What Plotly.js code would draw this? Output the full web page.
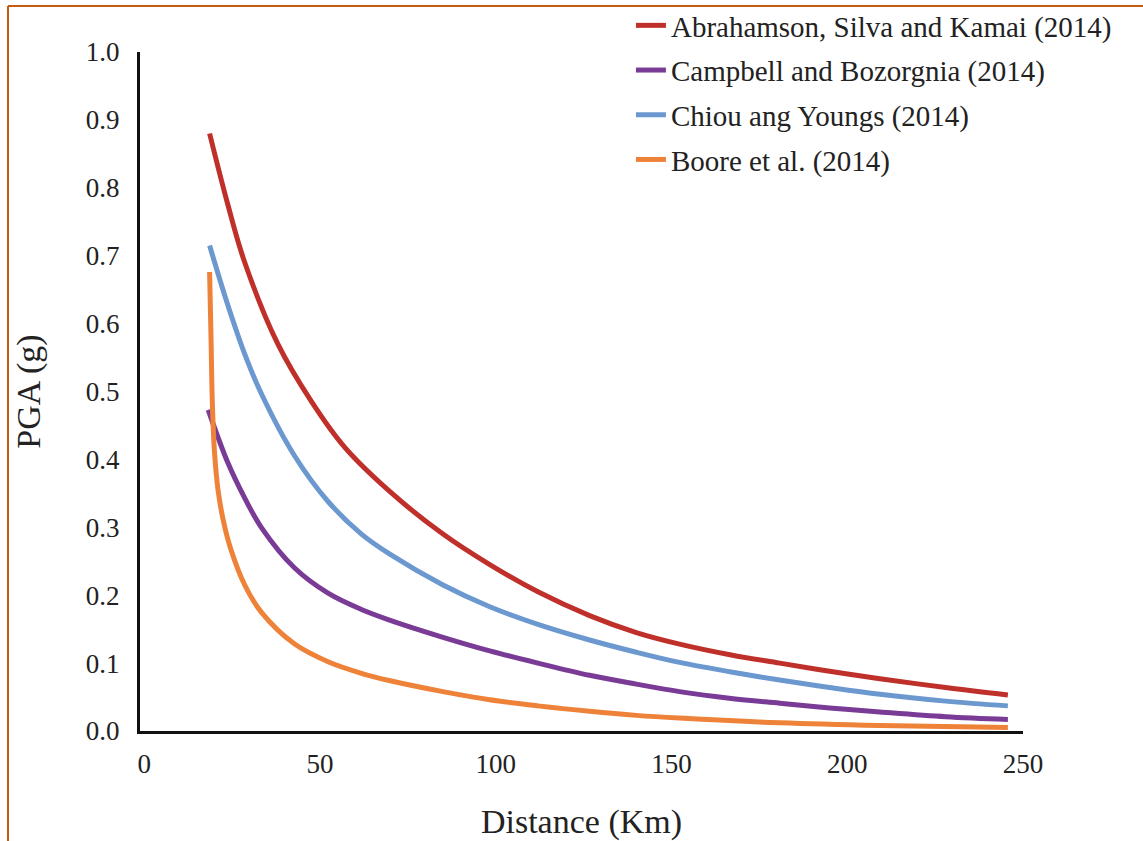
<!DOCTYPE html>
<html>
<head>
<meta charset="utf-8">
<script src="https://cdn.plot.ly/plotly-3.0.1.min.js"></script>
<style>html,body{margin:0;padding:0;background:#fff;}#chart{width:1143px;height:841px;}</style>
</head>
<body>
<div id="chart"></div>
<script>
// Series names
const seriesNames = [
  "Abrahamson, Silva and Kamai (2014)",
  "Campbell and Bozorgnia (2014)",
  "Chiou ang Youngs (2014)",
  "Boore et al. (2014)"
];

// Distance (Km) and PGA (g)
const askX = [18.6, 23.8, 28.6, 38.0, 47.6, 57.0, 70.0, 85.0, 98.3, 112.0, 126.7, 140.0, 152.3, 167.0, 180.8, 195.0, 209.3, 228.0, 245.7];
const askY = [0.880, 0.775, 0.690, 0.570, 0.485, 0.418, 0.352, 0.290, 0.245, 0.205, 0.170, 0.145, 0.128, 0.112, 0.100, 0.088, 0.077, 0.064, 0.053];

const cbX = [18.2, 23.8, 28.6, 33.3, 42.8, 52.3, 61.8, 70.0, 85.0, 98.3, 112.0, 126.7, 140.0, 152.3, 167.0, 180.8, 195.0, 209.3, 228.0, 245.7];
const cbY = [0.473, 0.395, 0.343, 0.300, 0.240, 0.203, 0.179, 0.163, 0.138, 0.118, 0.100, 0.082, 0.069, 0.058, 0.048, 0.041, 0.034, 0.028, 0.021, 0.017];

const cyX = [18.6, 23.8, 28.6, 33.3, 42.8, 52.3, 61.8, 70.0, 85.0, 98.3, 112.0, 126.7, 140.0, 152.3, 167.0, 180.8, 195.0, 209.3, 228.0, 245.7];
const cyY = [0.715, 0.627, 0.555, 0.497, 0.405, 0.338, 0.290, 0.260, 0.215, 0.183, 0.157, 0.134, 0.116, 0.101, 0.087, 0.075, 0.064, 0.054, 0.044, 0.037];

const bssaX = [18.6, 19.0, 19.4, 20.0, 21.0, 22.5, 24.5, 28.6, 33.3, 42.8, 52.3, 61.8, 70.0, 85.0, 98.3, 112.0, 126.7, 140.0, 152.3, 180.8, 209.3, 245.7];
const bssaY = [0.676, 0.580, 0.480, 0.410, 0.355, 0.310, 0.270, 0.215, 0.175, 0.128, 0.102, 0.085, 0.074, 0.058, 0.046, 0.037, 0.029, 0.023, 0.019, 0.012, 0.008, 0.005];

// Axis ticks
const xTicks = [0, 50, 100, 150, 200, 250];
const yTicks = [0.0, 0.1, 0.2, 0.3, 0.4, 0.5, 0.6, 0.7, 0.8, 0.9, 1.0];

const colors = ["#C0302B", "#7A3B96", "#6C98D0", "#EF8239"];
const xs = [askX, cbX, cyX, bssaX];
const ys = [askY, cbY, cyY, bssaY];

const FONT = "Liberation Serif, Times New Roman, serif";

const traces = seriesNames.map((n, i) => ({
  type: "scatter",
  mode: "lines",
  name: n,
  legendgroup: "g" + i,
  x: xs[i],
  y: ys[i],
  line: {color: colors[i], width: 5, shape: "spline", smoothing: 1},
  hoverinfo: "skip"
}));

const layout = {
  width: 1143,
  height: 841,
  paper_bgcolor: "#ffffff",
  plot_bgcolor: "#ffffff",
  margin: {l: 140, r: 120, t: 52, b: 110, pad: 0, autoexpand: false},
  font: {family: FONT, color: "#222222", size: 27},
  showlegend: true,
  legend: {
    xref: "container", yref: "container",
    x: 0.552, y: 1.004, xanchor: "left", yanchor: "top",
    bgcolor: "rgba(0,0,0,0)",
    font: {family: FONT, size: 29, color: "#222222"},
    tracegroupgap: 4,
    itemwidth: 30
  },
  xaxis: {
    range: [-1.2, 250],
    tickvals: xTicks,
    ticktext: xTicks.map(String),
    showgrid: false,
    zeroline: false,
    showline: true,
    linecolor: "#111111",
    linewidth: 3,
    ticks: "",
    ticklabelstandoff: 7,
    tickfont: {family: FONT, size: 27, color: "#222222"},
    title: {text: "Distance (Km)", font: {family: FONT, size: 34, color: "#222222"}, standoff: 31}
  },
  yaxis: {
    range: [0, 1.0],
    tickvals: yTicks,
    ticktext: yTicks.map(v => v.toFixed(1)),
    showgrid: false,
    zeroline: false,
    showline: true,
    linecolor: "#111111",
    linewidth: 3,
    ticks: "",
    ticklabelstandoff: 12,
    tickfont: {family: FONT, size: 27, color: "#222222"},
    title: {text: "PGA (g)", font: {family: FONT, size: 34, color: "#222222"}, standoff: 35}
  },
  shapes: [
    {type: "line", xref: "paper", yref: "paper", x0: -0.1495, x1: 1.2, y0: 1.0677, y1: 1.0677,
     line: {color: "#C55A11", width: 2}},
    {type: "line", xref: "paper", yref: "paper", x0: -0.1495, x1: -0.1495, y0: 1.0677, y1: -0.2,
     line: {color: "#C55A11", width: 2}}
  ]
};

Plotly.newPlot("chart", traces, layout, {displayModeBar: false, staticPlot: true});
</script>
</body>
</html>
